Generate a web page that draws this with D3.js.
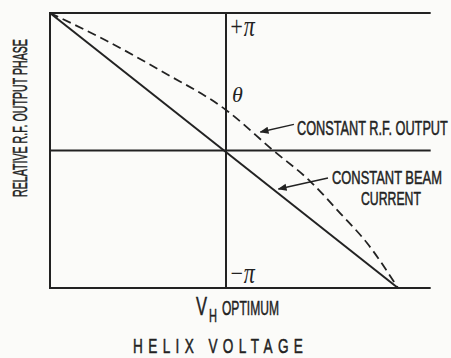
<!DOCTYPE html>
<html>
<head>
<meta charset="utf-8">
<script src="https://cdn.jsdelivr.net/npm/d3@7"></script>
<style>
  body { margin: 0; background: #fbfbf9; }
  svg { display: block; }
  .lbl { font-family: "Liberation Sans", Arial, sans-serif; fill: #222; stroke: #222; stroke-width: 0.5; }
  .sym { font-family: "Liberation Serif", "DejaVu Serif", serif; font-style: italic; fill: #222; }
</style>
</head>
<body>
<div id="chart"></div>
<script>
// helix voltage, relative to V_H optimum (-1 .. +1)
var beamX = [-1, 1];
// phase in units of pi
var beamPhase = [1, -1];

var rfX = [-1, -0.676, -0.358, 0, 0.275, 0.488, 0.663, 0.82, 1];
var rfPhase = [1, 0.796, 0.571, 0.295, 0, -0.222, -0.455, -0.673, -1];

var phaseTicks = [
  { v: 1, text: "+\u03C0" },
  { v: -1, text: "\u2212\u03C0" }
];

var svgWidth = 451;
var svgHeight = 358;

var svg = d3.select("#chart")
  .append("svg")
  .attr("width", svgWidth)
  .attr("height", svgHeight);

// x: left edge, optimum, convergence point
var xScale = d3.scaleLinear()
  .domain([-1, 0, 1])
  .range([50, 226, 398]);

var yScale = d3.scaleLinear()
  .domain([-Math.PI, Math.PI])
  .range([288, 13]);

var xMax = 1.19;
var ink = "#222";

var frame = svg.append("g")
  .attr("stroke", ink)
  .attr("stroke-width", 2)
  .attr("fill", "none");

// horizontal rules at +pi, 0, -pi
[Math.PI, 0, -Math.PI].forEach(function(v) {
  frame.append("line")
    .attr("x1", xScale(-1) - 1)
    .attr("x2", xScale(xMax))
    .attr("y1", yScale(v))
    .attr("y2", yScale(v));
});

// verticals: left edge and V_H optimum
[-1, 0].forEach(function(v) {
  frame.append("line")
    .attr("x1", xScale(v))
    .attr("x2", xScale(v))
    .attr("y1", yScale(Math.PI))
    .attr("y2", yScale(-Math.PI));
});

var line = d3.line()
  .x(d => xScale(d[0]))
  .y(d => yScale(d[1] * Math.PI));

// constant beam current (solid)
svg.append("path")
  .datum(d3.zip(beamX, beamPhase))
  .attr("d", line)
  .attr("fill", "none")
  .attr("stroke", ink)
  .attr("stroke-width", 2);

// constant r.f. output (dashed)
svg.append("path")
  .datum(d3.zip(rfX, rfPhase))
  .attr("d", line.curve(d3.curveMonotoneX))
  .attr("fill", "none")
  .attr("stroke", ink)
  .attr("stroke-width", 1.8)
  .attr("stroke-dasharray", "9,5");

// arrowhead marker
svg.append("defs").append("marker")
  .attr("id", "arrow")
  .attr("viewBox", "0 0 10 10")
  .attr("refX", 9)
  .attr("refY", 5)
  .attr("markerWidth", 6)
  .attr("markerHeight", 6)
  .attr("orient", "auto")
  .append("path")
  .attr("d", "M0,1L10,5L0,9Z")
  .attr("fill", ink);

function arrow(x1, p1, x2, p2) {
  svg.append("line")
    .attr("x1", xScale(x1)).attr("y1", yScale(p1 * Math.PI))
    .attr("x2", xScale(x2)).attr("y2", yScale(p2 * Math.PI))
    .attr("stroke", ink)
    .attr("stroke-width", 1.5)
    .attr("marker-end", "url(#arrow)");
}
arrow(0.395, 0.19, 0.2, 0.135);
arrow(0.593, -0.2, 0.305, -0.28);

// squeeze a text horizontally so it spans `len` pixels from its x
function squeeze(t, len) {
  var w = t.node().getComputedTextLength();
  var x = +t.attr("x"), y = +t.attr("y");
  t.attr("transform", `translate(${x},${y}) scale(${len / w},1) translate(${-x},${-y})`);
  return t;
}

function label(text, x, y, size, len) {
  var t = svg.append("text")
    .attr("class", "lbl")
    .attr("x", x)
    .attr("y", y)
    .attr("font-size", size)
    .text(text);
  return squeeze(t, len);
}

// pi tick labels on optimum line (tall italic pi)
svg.selectAll(".tick")
  .data(phaseTicks)
  .enter()
  .append("text")
  .attr("class", "sym")
  .attr("font-size", 20)
  .attr("transform", d => {
    var y = d.v > 0 ? yScale(Math.PI) + 23 : yScale(-Math.PI) - 5;
    return `translate(${xScale(0) + 3},${y}) scale(1.1,1.45)`;
  })
  .text(d => d.text);

svg.append("text")
  .attr("class", "sym")
  .attr("x", xScale(0) + 6)
  .attr("y", 102)
  .attr("font-size", 22)
  .text("\u03B8");

label("CONSTANT R.F. OUTPUT", 297, 135, 20, 151);
label("CONSTANT BEAM", 332, 184, 19, 110);
label("CURRENT", 361, 205, 19, 60);

// x labels
label("V", 196, 315, 26, 11);
label("H", 209, 322, 19, 8);
label("OPTIMUM", 222, 315, 20, 57);

// wide-spaced axis title
var title = svg.append("text")
  .attr("class", "lbl")
  .attr("x", 0)
  .attr("y", 0)
  .attr("font-size", 20)
  .text("HELIX VOLTAGE");
var gs = 0.68, tw = 170, n = 13;
var w0 = title.node().getComputedTextLength();
var ls = (tw - w0 * gs) / (n - 1) / gs;
title.attr("letter-spacing", ls)
  .attr("transform", `translate(133,353) scale(${gs},1)`);

// y label
var ylab = svg.append("text")
  .attr("class", "lbl")
  .attr("text-anchor", "middle")
  .attr("font-size", 21)
  .text("RELATIVE R.F. OUTPUT PHASE");
var yw = ylab.node().getComputedTextLength();
ylab.attr("transform", `translate(27,118) rotate(-90) scale(${158 / yw},1)`);
</script>
</body>
</html>
